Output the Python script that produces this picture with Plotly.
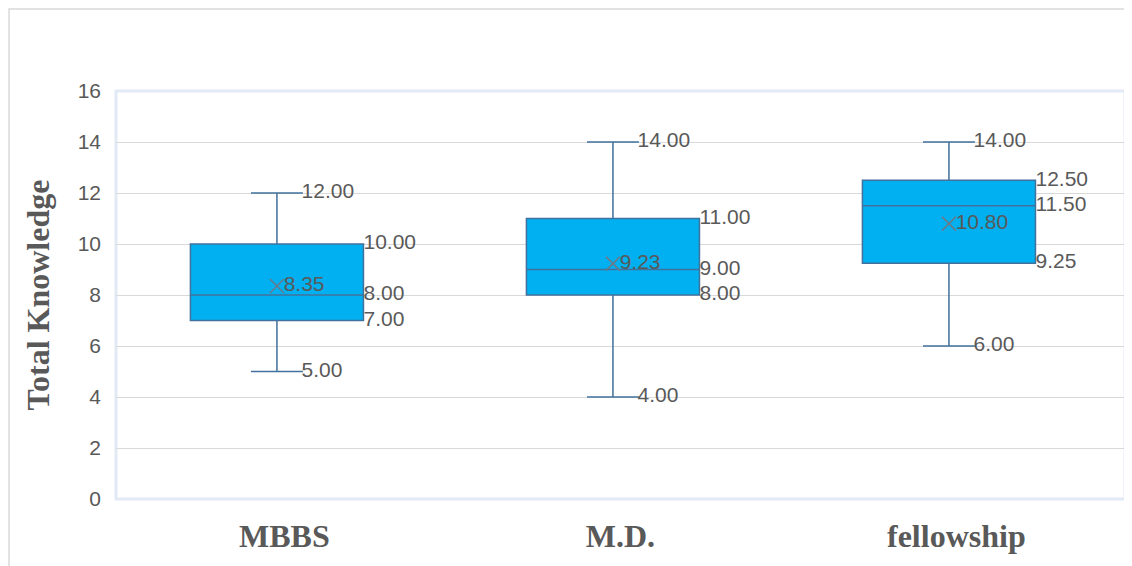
import plotly.graph_objects as go

categories = ["MBBS", "M.D.", "fellowship"]
minimum = [5.0, 4.0, 6.0]
q1 = [7.0, 8.0, 9.25]
median = [8.0, 9.0, 11.5]
q3 = [10.0, 11.0, 12.5]
maximum = [12.0, 14.0, 14.0]
mean = [8.35, 9.23, 10.80]
y_ticks = [0, 2, 4, 6, 8, 10, 12, 14, 16]

BOX_W = 0.515
WHISK = 0.3
LINE = "#41719C"
FILL = "#00B0F0"
TXT = "#595959"
xs = list(range(len(categories)))

fig = go.Figure()
for i, c in enumerate(categories):
    fig.add_trace(go.Box(
        x=[xs[i]], q1=[q1[i]], median=[median[i]], q3=[q3[i]],
        lowerfence=[minimum[i]], upperfence=[maximum[i]],
        width=BOX_W, whiskerwidth=WHISK, fillcolor=FILL,
        line=dict(color=LINE, width=1.5), name=c, showlegend=False,
        hoverinfo="skip",
    ))

# mean markers
fig.add_trace(go.Scatter(
    x=xs, y=mean, mode="markers",
    marker=dict(symbol="x-thin-open", size=14, color="#6A7A8A",
                line=dict(color="#6A7A8A", width=1.5)),
    showlegend=False, hoverinfo="skip"))

lbl_font = dict(family="Liberation Sans, Arial, sans-serif", size=21, color=TXT)

def add_labels(xvals, yvals):
    fig.add_trace(go.Scatter(
        x=xvals, y=yvals, mode="text", text=[f"{v:.2f}" for v in yvals],
        textposition="middle right", textfont=lbl_font,
        showlegend=False, hoverinfo="skip", cliponaxis=False))

cap = BOX_W * WHISK / 2
half = BOX_W / 2
add_labels([x + cap - 0.004 for x in xs], maximum)
add_labels([x + cap - 0.004 for x in xs], minimum)
add_labels([x + half + 0.0 for x in xs], q3)
add_labels([x + half + 0.0 for x in xs], median)
add_labels([x + half + 0.0 for x in xs], q1)
add_labels([x + 0.02 for x in xs], mean)

fig.update_layout(
    width=1132, height=566,
    margin=dict(l=108, r=15, t=83, b=75),
    paper_bgcolor="white", plot_bgcolor="white",
    xaxis=dict(
        range=[-0.479, 2.524], tickvals=[x + 0.022 for x in xs],
        ticktext=[f"<b>{c}</b>" for c in categories],
        showgrid=False, zeroline=False, showline=False, ticks="",
        tickfont=dict(family="Liberation Serif, Times New Roman, serif", size=32, color=TXT),
        ticklabelstandoff=15,
    ),
    yaxis=dict(
        range=[0, 16], tickvals=y_ticks, showgrid=True, gridcolor="#D9D9D9", gridwidth=1,
        zeroline=False, showline=False, ticks="",
        tickfont=dict(family="Liberation Sans, Arial, sans-serif", size=21, color=TXT),
        ticklabelstandoff=14,
        title=dict(text="<b>Total Knowledge</b>", standoff=18,
                   font=dict(family="Liberation Serif, Times New Roman, serif", size=32, color=TXT)),
    ),
    shapes=[
        dict(type="rect", xref="paper", yref="paper", x0=0, x1=1, y0=0, y1=1,
             line=dict(color="#E2EAF5", width=3), layer="below"),
        dict(type="rect", xref="paper", yref="paper", x0=-0.106, x1=1.5, y0=-1, y1=1.201,
             line=dict(color="#D9D9D9", width=1.5), layer="below"),
    ],
)

fig.write_html("out.html")
